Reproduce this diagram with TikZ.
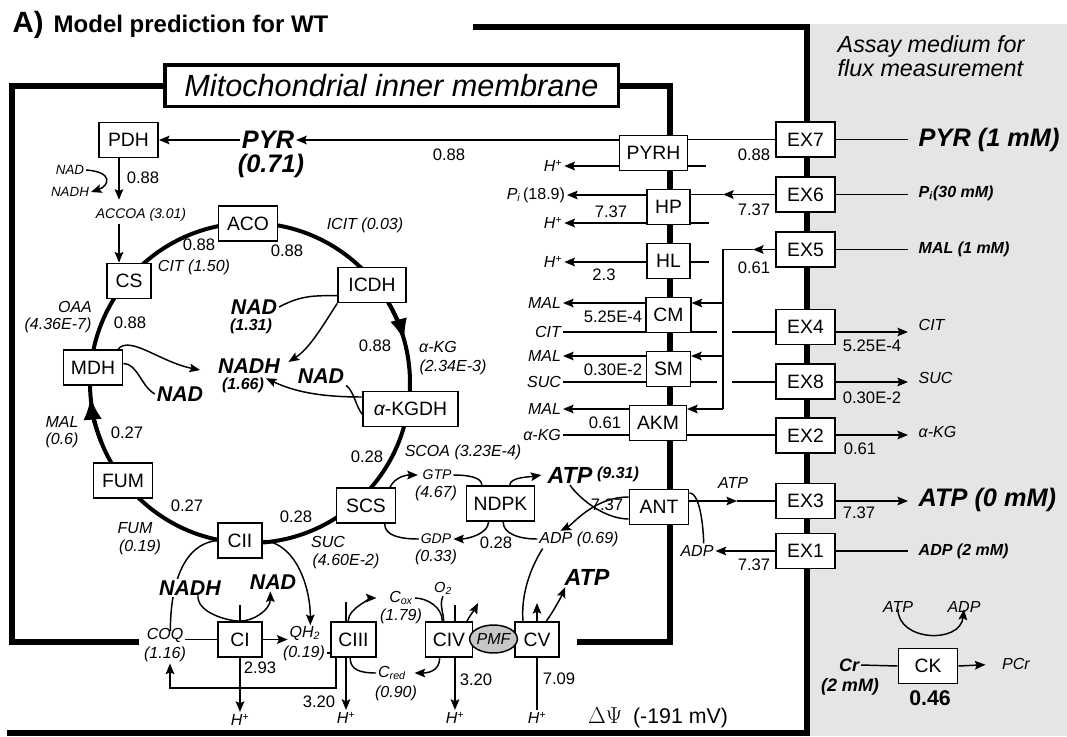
\documentclass[tikz,border=0pt]{standalone}
\usepackage{fontspec}
\setmainfont{Liberation Sans}
\usetikzlibrary{arrows.meta,shapes.geometric}

\newcommand{\hplus}{\textit{H}\textsuperscript{+}}

\tikzset{every picture/.style={line width=1.1pt}}
\tikzset{
  >={Stealth[length=8pt,width=6.5pt,inset=1.5pt]},
  enz/.style={draw,fill=white,line width=1.1pt,inner xsep=5.5pt,inner ysep=0pt,minimum width=33pt,minimum height=26.5pt,font=\fontsize{14.5}{16}\selectfont},
  wbox/.style={minimum width=44.5pt},
  lbl/.style={inner sep=1pt,font=\fontsize{12}{14}\selectfont\itshape},
  tlbl/.style={inner sep=1pt,font=\fontsize{10.5}{12}\selectfont\itshape},
  slbl/.style={inner sep=1pt,font=\fontsize{10}{11}\selectfont\itshape},
  num/.style={inner sep=1pt,font=\fontsize{12.5}{14}\selectfont},
  bnad/.style={inner sep=1pt,font=\fontsize{16}{18}\selectfont\bfseries\itshape},
  batp/.style={inner sep=1pt,font=\fontsize{17.5}{19}\selectfont\bfseries\itshape},
  bval/.style={inner sep=1pt,font=\fontsize{12}{14}\selectfont\bfseries\itshape},
  bigl/.style={inner sep=1pt,font=\fontsize{19}{21}\selectfont\bfseries\itshape},
  rlab/.style={anchor=west,inner xsep=7.5pt,inner ysep=1pt},
  memb/.style={line width=4.5pt},
  cyc/.style={line width=3pt},
}

\begin{document}
\begin{tikzpicture}[x=0.75pt,y=0.75pt,yscale=-1,xscale=1]
\useasboundingbox (0,0) rectangle (1067,736);

%Shape: Rectangle (assay medium)
\fill[black!10] (807,24) rectangle (1067,736);

% Text Node
\node[anchor=base west,inner sep=0pt,font=\fontsize{22}{24}\selectfont\bfseries] (ttla) at (12,32) {A)};
% Text Node
\node[anchor=base west,inner sep=0pt,font=\fontsize{18}{20}\selectfont\bfseries] (ttl) at (53,32) {Model prediction for WT};
% Text Node
\node[anchor=base west,inner sep=0pt,font=\fontsize{17.5}{19}\selectfont\itshape] (assa) at (837,52) {Assay medium for};
% Text Node
\node[anchor=base west,inner sep=0pt,font=\fontsize{17.5}{19}\selectfont\itshape] (assb) at (837,76) {flux measurement};

%Shape: Rectangle (membrane label)
\node[draw,fill=white,line width=2.5pt,minimum width=340pt,minimum height=31pt,inner sep=0pt,font=\fontsize{23}{25}\selectfont\itshape] (mim) at (391.5,85.5) {Mitochondrial inner membrane};

%Straight Lines (inner membrane)
\draw[memb] (mim.west) -- (12,85.5) -- (12,642) -- (139,642);
\draw[memb] (mim.east) -- (670,85.5) -- (670,642) -- (577,642);
%Straight Lines (outer membrane)
\draw[memb] (473,27) -- (807,27) -- (807,733) -- (7,733);

%Shape: Circle (TCA cycle)
\coordinate (tca) at (250,383);
\draw[cyc] (tca) circle[radius=160];
\draw[cyc,-{Latex[length=17pt,width=13pt]}] (tca) ++(-30:160) arc[start angle=-30,end angle=-15,radius=160];
\draw[cyc,-{Latex[length=17pt,width=14pt]}] (tca) ++(158:160) arc[start angle=158,end angle=175,radius=160];

%Shape: Rectangle (matrix enzymes)
\node[enz,wbox] (pdh) at (128.5,140) {PDH};
\node[enz,wbox] (aco) at (248,223.5) {ACO};
\node[enz] (cs) at (129,281) {CS};
\node[enz,minimum width=51pt] (icdh) at (372,285) {ICDH};
\node[enz,wbox] (mdh) at (93,367.5) {MDH};
\node[enz,minimum width=71pt] (akgdh) at (410.5,409) {{\itshape α}-KGDH};
\node[enz,wbox] (fum) at (123,480.5) {FUM};
\node[enz,wbox] (scs) at (366,505.5) {SCS};
\node[enz] (ndpk) at (500.5,503.5) {NDPK};
\node[enz] (cii) at (240,540.5) {CII};
\node[enz] (ci) at (240,639.5) {CI};
\node[enz] (ciii) at (353.5,639.5) {CIII};
\node[enz] (civ) at (449,639.5) {CIV};
\node[enz] (cv) at (537,639.5) {CV};
%Shape: Ellipse
\node[ellipse,draw,fill=black!22,line width=1.1pt,minimum width=33pt,minimum height=21pt,inner sep=0pt,font=\fontsize{12}{14}\selectfont\itshape] (pmf) at (493.5,639) {PMF};

%Shape: Rectangle (carriers)
\node[enz] (pyrh) at (653.5,153) {PYRH};
\node[enz,minimum width=32pt] (hp) at (668.5,207) {HP};
\node[enz,minimum width=32pt] (hl) at (668.5,261) {HL};
\node[enz,minimum width=32pt] (cm) at (668.5,315) {CM};
\node[enz,minimum width=32pt] (sm) at (668.5,369) {SM};
\node[enz] (akm) at (658,423) {AKM};
\node[enz,wbox] (ant) at (659,507) {ANT};

%Shape: Rectangle (exchange)
\node[enz,minimum width=44pt] (ex7) at (805.5,139.5) {EX7};
\node[enz,minimum width=44pt] (ex6) at (805.5,194.5) {EX6};
\node[enz,minimum width=44pt] (ex5) at (805.5,249.5) {EX5};
\node[enz,minimum width=44pt] (ex4) at (805.5,327) {EX4};
\node[enz,minimum width=44pt] (ex8) at (805.5,381.5) {EX8};
\node[enz,minimum width=44pt] (ex2) at (805.5,435.5) {EX2};
\node[enz,minimum width=44pt] (ex3) at (805.5,501) {EX3};
\node[enz,minimum width=44pt] (ex1) at (805.5,551) {EX1};
\node[enz,wbox] (ck) at (928,666) {CK};

% Text Node (pyruvate)
\node[bigl] (pyr) at (268,140) {PYR};
\node[bigl] (pyrv) at (271,166) {(0.71)};
\node[num] (n1) at (449,155) {0.88};
\node[num] (n2) at (754,155) {0.88};
\node[lbl] (hpy) at (553,166) {\hplus};
% Text Node (phosphate)
\node[lbl,anchor=east] (pi) at (567,195) {P\textsubscript{i}\,\textup{(18.9)}};
\node[lbl] (h2) at (553,223) {\hplus};
\node[num] (n3) at (611,212) {7.37};
\node[num] (n4) at (754,210) {7.37};
\node[lbl] (h3) at (553,262) {\hplus};
\node[num] (n5) at (604,275) {2.3};
\node[num] (n6) at (754,268) {0.61};
% Text Node (malate carriers)
\node[lbl,anchor=east] (mal1) at (563,303) {MAL};
\node[lbl,anchor=east] (cit1) at (563,332) {CIT};
\node[num] (n7) at (613,317) {5.25E-4};
\node[lbl,anchor=east] (mal2) at (563,356) {MAL};
\node[lbl,anchor=east] (suc1) at (563,382) {SUC};
\node[num] (n8) at (613,370) {0.30E-2};
\node[lbl,anchor=east] (mal3) at (563,409) {MAL};
\node[lbl,anchor=east] (akg1) at (563,435) {α-KG};
\node[num] (n9) at (605,423) {0.61};
% Text Node (medium)
\node[bigl,rlab] (pyrout) at (908,140) {PYR (1 mM)};
\node[bval,rlab] (piout) at (908,193) {P\textsubscript{i}(30 mM)};
\node[bval,rlab] (malout) at (908,249) {MAL (1 mM)};
\node[lbl,rlab] (citout) at (908,325) {CIT};
\node[lbl,rlab] (sucout) at (908,378) {SUC};
\node[lbl,rlab] (akgout) at (908,432) {α-KG};
\node[bigl,rlab] (atpout) at (908,500) {ATP (0 mM)};
\node[bval,rlab] (adpout) at (908,551) {ADP (2 mM)};
\node[num] (n10) at (872,346) {5.25E-4};
\node[num] (n11) at (872,398) {0.30E-2};
\node[num] (n12) at (860,449) {0.61};
\node[num] (n13) at (859,513) {7.37};
% Text Node (adenine nucleotides)
\node[lbl] (atpa) at (733,483) {ATP};
\node[lbl] (adpa) at (697,551) {ADP};
\node[num] (n14) at (754,565) {7.37};
\node[batp] (atpn) at (570,475) {ATP};
\node[bval] (atpnv) at (618,474) {(9.31)};
\node[num] (n15) at (607,505) {7.37};
\node[lbl] (adp69) at (579,539) {ADP (0.69)};
% Text Node (creatine kinase)
\node[bval,font=\fontsize{13.5}{15}\selectfont\bfseries\itshape] (cr) at (849,665) {Cr};
\node[bval,font=\fontsize{13.5}{15}\selectfont\bfseries\itshape] (crv) at (850,687) {(2 mM)};
\node[inner sep=1pt,font=\fontsize{16}{18}\selectfont\bfseries] (n46) at (930,698) {0.46};
\node[lbl] (pcr) at (1016,664) {PCr};
\node[lbl] (ckatp) at (898,607) {ATP};
\node[lbl] (ckadp) at (964,607) {ADP};

% Text Node (TCA cycle)
\node[tlbl] (accoa) at (141,215) {ACCOA (3.01)};
\node[slbl] (nadp) at (70,170) {NAD};
\node[slbl] (nadhp) at (70,192) {NADH};
\node[num] (n088a) at (143,178) {0.88};
\node[num] (n088b) at (199,245) {0.88};
\node[num] (n088c) at (287,251) {0.88};
\node[lbl] (icit) at (365,225) {ICIT (0.03)};
\node[lbl] (cit) at (194,267) {CIT (1.50)};
\node[lbl] (oaa) at (75,307) {OAA};
\node[lbl] (oaav) at (58,325) {(4.36E-7)};
\node[num] (n088d) at (130,323) {0.88};
\node[bnad] (nad131) at (254,307) {NAD};
\node[bval] (nad131v) at (251,326) {(1.31)};
\node[bnad] (nadh) at (249,366) {NADH};
\node[bval] (nadhv) at (243,385) {(1.66)};
\node[bnad] (nadk) at (321,376) {NAD};
\node[bnad] (nadm) at (180,394) {NAD};
\node[lbl] (mal) at (62,422) {MAL};
\node[lbl] (malv) at (62,440) {(0.6)};
\node[num] (n027a) at (127,433) {0.27};
\node[num] (n088e) at (375,346) {0.88};
\node[lbl] (akg) at (438,347) {α-KG};
\node[lbl] (akgv) at (453,367) {(2.34E-3)};
\node[num] (n028a) at (367,457) {0.28};
\node[lbl] (scoa) at (463,452) {SCOA (3.23E-4)};
\node[num] (n027b) at (187,506) {0.27};
\node[lbl] (fumn) at (135,528) {FUM};
\node[lbl] (fumv) at (140,547) {(0.19)};
\node[num] (n028b) at (296,517) {0.28};
\node[lbl] (suc) at (328,542) {SUC};
\node[lbl] (sucv) at (346,561) {(4.60E-2)};
\node[tlbl] (gtp) at (437,475) {GTP};
\node[lbl] (gtpv) at (436,493) {(4.67)};
\node[tlbl] (gdp) at (436,539) {GDP};
\node[lbl] (gdpv) at (436,557) {(0.33)};
\node[num] (n028c) at (496,543) {0.28};

% Text Node (respiratory chain)
\node[lbl] (coq) at (165,635) {COQ};
\node[lbl] (coqv) at (165,654) {(1.16)};
\node[lbl] (qh2) at (305,633) {QH\textsubscript{2}};
\node[lbl] (qh2v) at (304,653) {(0.19)};
\node[num] (n293) at (260,668) {2.93};
\node[num] (n320a) at (319,702) {3.20};
\node[lbl] (cox) at (401,598) {C\textsubscript{ox}};
\node[lbl] (coxv) at (401,616) {(1.79)};
\node[lbl,font=\fontsize{11}{12}\selectfont\itshape] (o2) at (443,588) {O\textsubscript{2}};
\node[lbl] (cred) at (392,673) {C\textsubscript{red}};
\node[lbl] (credv) at (396,693) {(0.90)};
\node[num] (n320b) at (476,680) {3.20};
\node[num] (n709) at (559,679) {7.09};
\node[batp] (atpcv) at (587,577) {ATP};
\node[bnad] (nadci) at (273,582) {NAD};
\node[lbl] (hci) at (240,720) {\hplus};
\node[lbl] (hciii) at (346,718) {\hplus};
\node[lbl] (hciv) at (455,718) {\hplus};
\node[lbl] (hcv) at (537,718) {\hplus};
\node[inner sep=1pt,font=\fontsize{16}{18}\selectfont] (dpsi) at (658,718) {$\Delta\Psi$\enspace(-191 mV)};

%Straight Lines (pyruvate)
\draw[->] (pyrh.west |- pyr) -- (pyr.east);
\draw[->] (pyr.west) -- (pdh.east);
\draw (ex7.west) -- (pyrh.east |- ex7);
\draw (ex7.east) -- (pyrout.west |- ex7);
\draw[->] (pyrh.west |- hpy) -- (hpy.east);
\draw (pyrh.east |- hpy) -- ++(18,0);
%Straight Lines (phosphate)
\coordinate (m6) at (723,194.5);
\draw[->] (hp.west |- pi) -- (pi.east);
\draw[->] (ex6.west) -- (m6);
\draw (m6) -- (hp.east |- m6);
\draw (ex6.east) -- (piout.west |- ex6);
\draw[->] (hp.west |- h2) -- (h2.east);
\draw (hp.east |- h2) -- ++(18,0);
\draw[->] (hl.west |- h3) -- (h3.east);
\draw (hl.east |- h3) -- ++(18,0);
%Straight Lines (malate)
\coordinate (m5) at (753,249.5);
\coordinate (j5) at (723,249.5);
\coordinate (j3) at (723,409);
\coordinate (gapl) at (717,0);
\coordinate (gapr) at (732,0);
\draw[->] (ex5.west) -- (m5);
\draw (m5) -- (j5) -- (j3);
\draw (ex5.east) -- (malout.west |- ex5);
\draw[->] (j5 |- mal1) -- (cm.east |- mal1);
\draw[->] (j5 |- mal2) -- (sm.east |- mal2);
\draw[->] (j3) -- (akm.east |- j3);
\draw[->] (cm.west |- mal1) -- (mal1.east);
\draw[->] (sm.west |- mal2) -- (mal2.east);
\draw[->] (akm.west |- mal3) -- (mal3.east);
%Straight Lines (citrate)
\draw (cit1.east) -- (cm.west |- cit1);
\draw (cm.east |- cit1) -- (gapl |- cit1);
\draw (gapr |- cit1) -- (ex4.west |- cit1);
\draw[->] (ex4.east |- cit1) -- (citout.west |- cit1);
%Straight Lines (succinate)
\draw (suc1.east) -- (sm.west |- suc1);
\draw (sm.east |- suc1) -- (gapl |- suc1);
\draw (gapr |- suc1) -- (ex8.west |- suc1);
\draw[->] (ex8.east |- suc1) -- (sucout.west |- suc1);
%Straight Lines (alpha-ketoglutarate)
\draw (akg1.east) -- (akm.west |- akg1);
\draw (akm.east |- akg1) -- (ex2.west |- akg1);
\draw[->] (ex2.east |- akg1) -- (akgout.west |- akg1);
%Straight Lines (ATP, ADP)
\coordinate (m3) at (737,501);
\draw[->] (ant.east |- ex3) -- (m3);
\draw (m3) -- (ex3.west);
\draw[->] (ex3.east) -- (atpout.west |- ex3);
\draw[->] (ex1.west) -- (adpa.east);
\draw (ex1.east) -- (adpout.west |- ex1);
%Curve Lines (ANT)
\draw (atpn.south) .. controls +(8,12) and +(-25,0) .. ([yshift=9pt]ant.west);
\draw[->] ([yshift=-7.5pt]ant.west) .. controls +(-35,0) and +(12,-6) .. ([xshift=-14pt,yshift=1pt]adp69.north);
\draw ([yshift=-10.5pt]ant.east) .. controls +(12,0) and +(0,-8) .. ([xshift=5pt]adpa.north);
%Straight Lines (CK)
\draw (cr.east) -- (ck.west);
\draw[->,shorten >=11pt] (ck.east) -- (pcr.west);
%Curve Lines (CK)
\draw[->] ([yshift=-4pt]ckatp.south) .. controls +(0,32) and +(-4,35) .. ([yshift=-4pt]ckadp.south);

%Straight Lines (PDH)
\coordinate (pdhx) at (119,0);
\draw[->,shorten >=5pt] (pdh.south -| pdhx) -- (accoa.north -| pdhx);
\draw[->] (accoa.south -| pdhx) -- (cs.north -| pdhx);
%Curve Lines (PDH)
\draw[->] (nadp.east) .. controls +(28,2) and +(18,-6) .. (nadhp.east);
%Curve Lines (dehydrogenases)
\draw (nad131.east) .. controls +(22,-12) and +(-22,0) .. ([yshift=8pt]icdh.west);
\draw[->] (icdh.south west) .. controls +(-12,18) and +(22,-14) .. ([xshift=5pt,yshift=4pt]nadh.north east);
\draw[->] ([xshift=-4pt]mdh.north east) .. controls +(12,-14) and +(-40,-8) .. ([xshift=-12pt,yshift=3pt]nadh.west);
\draw ([yshift=-3pt]mdh.east) .. controls +(14,0) and +(-14,-8) .. (nadm.west);
\draw (nadk.south east) .. controls +(8,6) and +(-6,-6) .. ([yshift=4pt]akgdh.west);
\draw[->] ([yshift=-9pt]akgdh.west) .. controls +(-40,0) and +(30,14) .. ([yshift=-5pt]nadhv.east);
%Curve Lines (SCS, NDPK)
\draw[->] ([xshift=18pt]scs.north) .. controls +(5,-10) and +(-12,0) .. ([xshift=-2pt]gtp.west);
\draw (gtp.east) .. controls +(14,0) and +(0,-8) .. ([xshift=-14pt]ndpk.north);
\draw[->] ([xshift=7pt]ndpk.north) .. controls +(0,-8) and +(-12,2) .. ([xshift=-3pt]atpn.west);
\draw[->] ([xshift=-9pt]ndpk.south) .. controls +(0,12) and +(14,0) .. (gdp.east);
\draw (gdp.west) .. controls +(-18,0) and +(0,12) .. ([xshift=14pt]scs.south);
\draw (adp69.west) .. controls +(-18,0) and +(0,12) .. ([xshift=2pt]ndpk.south);

%Curve Lines (CII)
\draw (cii.west) .. controls +(-38,4) and +(0,-38) .. ([xshift=4pt,yshift=4pt]coq.north);
\draw[->] (cii.east) .. controls +(32,2) and +(0,-40) .. ([xshift=4pt,yshift=1pt]qh2.north);
%Straight Lines (CI)
\draw (coq.east |- ci) -- (ci.west);
\draw[->] (ci.east) -- (qh2.west |- ci);
\draw (qh2v.east) -- (ciii.west |- qh2v);
\draw (ci.north -| hci) -- ++(0,-16);
\draw[->] (ci.south -| hci) -- (hci.north);
\coordinate (qloop) at (170,688);
\draw[->] ([xshift=-13pt]ciii.south) |- (qloop) -- ([xshift=3.75pt]coqv.south);
%Curve Lines (CIII, CIV)
\draw ([xshift=-5.6pt]ciii.north) -- ++(0,-19);
\draw[->,shorten >=8pt] ([xshift=-4pt]ciii.north) .. controls +(0,-14) and +(-12,0) .. (cox.west);
\draw (cox.east) .. controls +(12,0) and +(0,-14) .. ([xshift=-5pt]civ.north);
\draw (o2.south) .. controls +(-4,8) and +(0,-8) .. ([xshift=-4pt]civ.north);
\draw (civ.north -| hciv) -- ++(0,-16);
\coordinate (civout) at (478,603);
\draw[->] ([xshift=13.5pt]civ.north) .. controls +(3,-6) and +(-3,6) .. (civout);
\draw[->] ([xshift=-7pt]civ.south) .. controls +(0,14) and +(12,0) .. ([xshift=5pt]cred.east);
\draw (cred.west) .. controls +(-16,0) and +(0,12) .. ([xshift=-2.5pt]ciii.south);
\draw[->] (ciii.south -| hciii) -- (hciii.north);
\draw[->] (civ.south -| hciv) -- (hciv.north);
%Straight Lines (CV)
\coordinate (cvup) at (537,603);
\draw (hcv.north) -- (cv.south);
\draw[->] (cv.north) -- (cvup);
%Curve Lines (CV)
\draw[->] ([xshift=7pt]cv.north) .. controls +(6,-8) and +(-4,10) .. ([xshift=2pt]atpcv.south west);
\draw ([xshift=4pt]adp69.south west) .. controls +(-14,22) and +(-2,-24) .. ([xshift=-10.5pt]cv.north);

% Text Node (over the CII arc)
\node[bnad,fill=white] (nadhci) at (190,588) {NADH};
%Curve Lines (CI)
\draw[->] ([xshift=6pt,yshift=-2pt]nadhci.south) .. controls +(-2,18) and +(-12,0) .. (ci.north) .. controls +(14,0) and +(0,18) .. ([xshift=-2pt]nadci.south);

\end{tikzpicture}
\end{document}
